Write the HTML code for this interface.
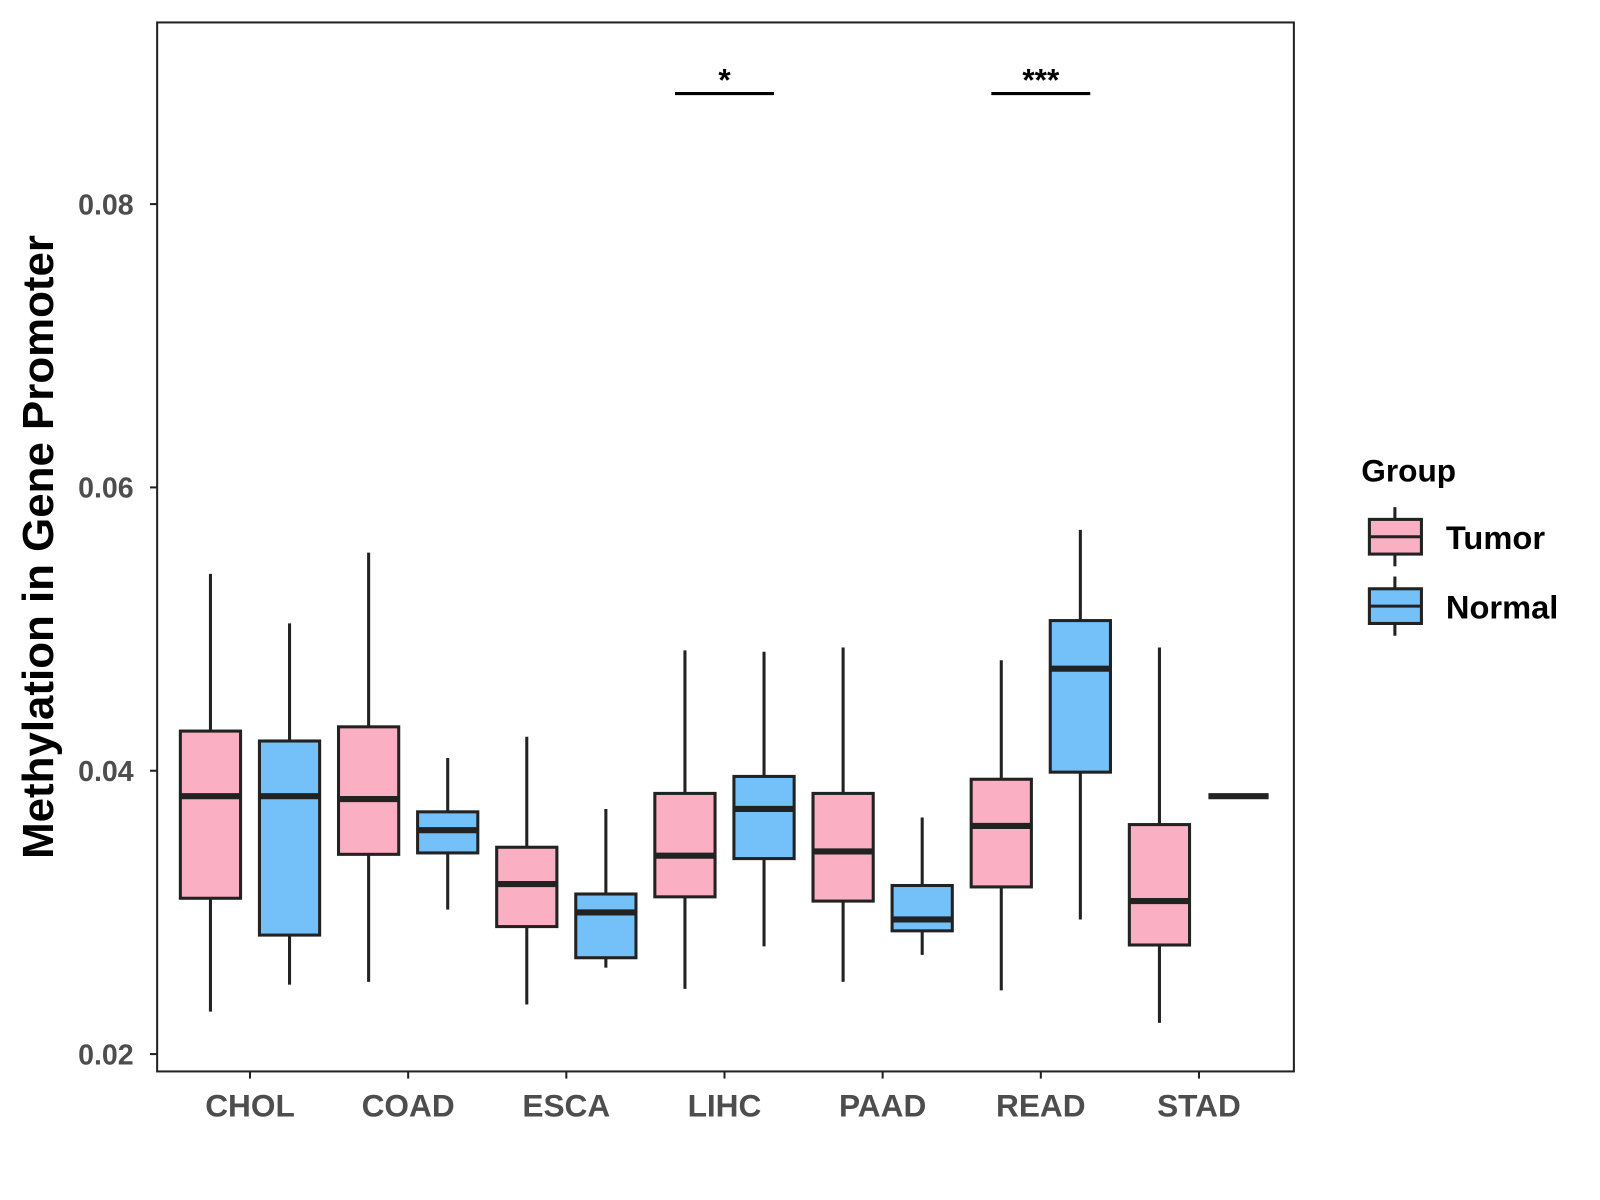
<!DOCTYPE html>
<html><head><meta charset="utf-8"><style>
html,body{margin:0;padding:0;background:#fff;}
svg{display:block;font-family:"Liberation Sans",Arial,sans-serif;}
</style></head><body>
<svg id="chart" width="1600" height="1200" viewBox="0 0 1568 1176">
<rect x="154" y="22" width="1114" height="1028" fill="#fff" stroke="#222" stroke-width="2"/>
<g id="marks"></g>
<g id="axes"></g>
<text transform="translate(52,536) rotate(-90)" text-anchor="middle" font-size="43" font-weight="bold" fill="#000">Methylation in Gene Promoter</text>
<g>
<text x="1334" y="472" font-size="31" font-weight="bold" fill="#000">Group</text>
<g>
<line x1="1367" y1="497" x2="1367" y2="555" stroke="#222" stroke-width="3"/>
<rect x="1342" y="509" width="51" height="34" fill="#fbafc2" stroke="#222" stroke-width="3"/>
<line x1="1342" y1="526" x2="1393" y2="526" stroke="#222" stroke-width="3"/>
<text x="1417" y="538" font-size="32" font-weight="bold" fill="#000">Tumor</text>
</g>
<g>
<line x1="1367" y1="565" x2="1367" y2="623" stroke="#222" stroke-width="3"/>
<rect x="1342" y="577" width="51" height="34" fill="#74c1f9" stroke="#222" stroke-width="3"/>
<line x1="1342" y1="594" x2="1393" y2="594" stroke="#222" stroke-width="3"/>
<text x="1417" y="606" font-size="32" font-weight="bold" fill="#000">Normal</text>
</g>
</g>
</svg>
<script>
const categories = ["CHOL","COAD","ESCA","LIHC","PAAD","READ","STAD"];
const groups = ["Tumor","Normal"];
// [min, q1, median, q3, max]
const tumorStats = [
 [0.0230,0.0310,0.0382,0.0428,0.0539],
 [0.0251,0.0341,0.0380,0.0431,0.0554],
 [0.0235,0.0290,0.0320,0.0346,0.0424],
 [0.0246,0.0311,0.0340,0.0384,0.0485],
 [0.0251,0.0308,0.0343,0.0384,0.0487],
 [0.0245,0.0318,0.0361,0.0394,0.0478],
 [0.0222,0.0277,0.0308,0.0362,0.0487]
];
const normalStats = [
 [0.0249,0.0284,0.0382,0.0421,0.0504],
 [0.0302,0.0342,0.0358,0.0371,0.0409],
 [0.0261,0.0268,0.0300,0.0313,0.0373],
 [0.0276,0.0338,0.0373,0.0396,0.0484],
 [0.0270,0.0287,0.0295,0.0319,0.0367],
 [0.0295,0.0399,0.0472,0.0506,0.0570],
 [0.0382,0.0382,0.0382,0.0382,0.0382]
];
const yTicks = [0.02,0.04,0.06,0.08];
const yTickLabels = ["0.02","0.04","0.06","0.08"];
const sigCategories = ["LIHC","READ"];
const sigLabels = ["*","***"];
const sigValue = 0.0878;

const NS="http://www.w3.org/2000/svg";
const y = v => 200 + (0.08 - v) / 0.06 * 833;
const x = i => 245 + i * 155;
const fills = ["#fbafc2","#74c1f9"];
function mk(tag, attrs, parent){const e=document.createElementNS(NS,tag);for(const k in attrs)e.setAttribute(k,attrs[k]);parent.appendChild(e);return e;}
const marks=document.getElementById("marks"), axes=document.getElementById("axes");
[tumorStats,normalStats].forEach((stats,g)=>{
  stats.forEach((s,i)=>{
    const cx = x(i) + (g===0?-38.75:38.75), w=59;
    const grp = mk("g",{},marks);
    
    
    const st={stroke:"#222","stroke-width":3};
    mk("line",Object.assign({x1:cx,x2:cx,y1:y(s[4]),y2:y(s[3])},st),grp);
    mk("line",Object.assign({x1:cx,x2:cx,y1:y(s[1]),y2:y(s[0])},st),grp);
    if(s[3]>s[1]) mk("rect",Object.assign({x:cx-w/2,y:y(s[3]),width:w,height:y(s[1])-y(s[3]),fill:fills[g]},st),grp);
    mk("line",{x1:cx-w/2,x2:cx+w/2,y1:y(s[2]),y2:y(s[2]),stroke:"#222","stroke-width":6},grp);
  });
});
sigCategories.forEach((c,k)=>{
  const i=categories.indexOf(c);
  const g=mk("g",{},marks);
  
  
  mk("line",{x1:x(i)-48.5,x2:x(i)+48.5,y1:y(sigValue),y2:y(sigValue),stroke:"#000","stroke-width":3},g);
  const t=mk("text",{x:x(i),y:y(sigValue)-3,"text-anchor":"middle","font-size":31,"font-weight":"bold",fill:"#000"},g);
  t.textContent=sigLabels[k];
});
yTicks.forEach((v,k)=>{
  const g=mk("g",{},axes);
  
  
  mk("line",{x1:147,x2:154,y1:y(v),y2:y(v),stroke:"#222","stroke-width":2},g);
  const t=mk("text",{x:131,y:y(v)+10,"text-anchor":"end","font-size":28,"font-weight":"bold",fill:"#4d4d4d"},g);
  t.textContent=yTickLabels[k];
});
categories.forEach((c,i)=>{
  const g=mk("g",{},axes);
  
  
  mk("line",{x1:x(i),x2:x(i),y1:1050,y2:1057,stroke:"#222","stroke-width":2},g);
  const t=mk("text",{x:x(i),y:1094,"text-anchor":"middle","font-size":31,"font-weight":"bold",fill:"#4d4d4d"},g);
  t.textContent=c;
});
</script>
</body></html>
